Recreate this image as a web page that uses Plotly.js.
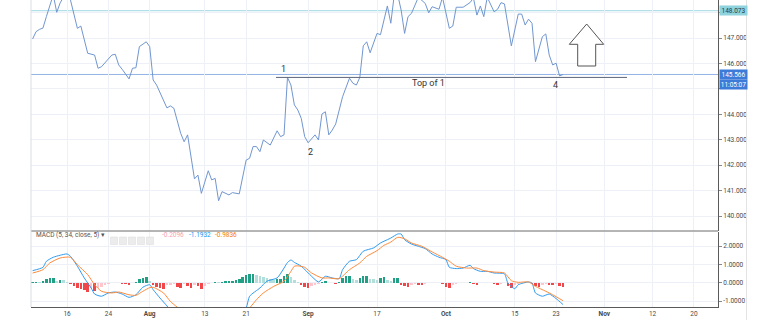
<!DOCTYPE html>
<html><head><meta charset="utf-8">
<script src="https://cdn.plot.ly/plotly-3.0.1.min.js"></script>
<style>html,body{margin:0;padding:0;background:#fff;}#chart{width:775px;height:320px;}</style>
</head><body><div id="chart"></div>
<script>
// ---------- data ----------
const firstSession = '2018-07-09';   // first 12h bar shown
const barCount = 155;                // 12h bars up to 2018-10-24 00:00

// price line: bar number (12h bars from firstSession) and close
const priceBar = [0,1,2,3,4,5,6,7,8,9,
  10,11,13,14,16,18,19,20,23,24,
  25,26,28,29,30,31,33,34,35,36,
  39,40,41,43,44,45,47,48,49,51,
  52,53,54,55,57,58,60,62,63,64,
  65,66,67,69,71,72,73,74,75,76,
  77,78,79,80,82,83,84,85,86,87,
  88,90,92,93,94,95,96,97,98,100,
  101,103,104,105,106,107,108,109,110,112,
  114,115,116,118,119,121,122,123,125,127,
  128,129,130,131,132,134,135,136,137,139,
  141,142,143,144,145,146,148,149,150,151,
  152,153,154];
const priceClose = [146.96,147.25,147.34,147.39,147.84,148.30,148.70,148.01,148.38,148.62,
  148.75,148.49,147.38,147.47,146.40,146.33,145.81,145.87,146.33,146.36,
  145.94,145.77,145.39,145.81,145.83,146.66,146.85,146.66,145.35,145.15,
  144.25,144.33,144.24,143.25,142.92,143.19,141.46,141.61,140.89,141.78,
  141.42,141.48,140.60,140.96,140.83,140.92,140.87,142.20,142.27,142.73,
  142.73,142.53,142.99,142.79,143.35,143.12,143.19,145.45,145.15,144.37,
  144.17,143.84,143.12,142.88,143.19,142.99,144.01,144.10,143.19,143.38,
  143.62,144.69,145.42,145.22,145.15,145.45,146.69,146.85,146.42,147.18,
  147.13,148.26,147.58,148.69,148.70,148.10,147.18,147.84,147.97,148.60,
  148.36,147.99,148.23,148.13,148.60,147.38,147.47,148.21,148.21,148.39,
  148.57,147.90,148.26,147.84,148.60,148.03,148.13,148.39,148.34,146.69,
  147.94,147.94,147.51,147.74,147.58,146.07,147.05,147.16,146.33,145.94,
  146.01,145.51,145.566];

// MACD (5, 34, close, 5)
const macdBar = [0,3,4,6,8,10,11,13,15,17,
  18,20,22,24,26,28,30,32,34,35,
  37,39,41,44,47,50,53,56,59,60,
  62,63,66,68,71,73,74,75,76,78,
  81,83,85,87,89,90,92,94,96,99,
  101,103,104,106,107,108,110,112,114,116,
  118,120,121,123,125,127,128,130,132,134,
  137,138,140,141,144,145,146,148,150,152,
  154];
const macdLine = [0.66,0.84,1.17,1.39,1.50,1.57,1.44,0.90,0.26,-0.29,
  -0.62,-0.74,-0.56,-0.51,-0.62,-0.80,-0.66,-0.25,-0.11,-0.38,
  -0.84,-1.27,-1.75,-2.3,-2.8,-3.0,-2.9,-2.6,-2.1,-1.8,
  -1.38,-0.74,-0.29,0.08,0.26,0.80,1.10,1.24,1.11,0.90,
  0.35,0.04,0.35,0.26,0.22,0.71,1.17,1.26,1.72,1.90,
  2.17,2.35,2.44,2.66,2.66,2.35,2.11,1.99,1.86,1.57,
  1.39,1.26,0.84,0.77,0.80,0.95,0.77,0.62,0.62,0.53,
  0.48,-0.02,-0.33,-0.11,0.04,-0.02,-0.56,-0.74,-0.62,-0.87,
  -1.1932];
const signalBar = [0,3,5,8,11,13,16,18,20,23,
  25,28,30,32,34,35,38,40,42,46,
  49,52,54,57,60,63,65,67,70,73,
  75,76,77,79,81,84,86,89,92,95,
  97,100,102,104,106,108,110,113,116,119,
  121,123,126,129,131,134,137,139,141,144,
  146,149,151,154];
const signalLine = [0.53,0.71,1.08,1.35,1.39,0.98,0.44,-0.11,-0.47,-0.56,
  -0.51,-0.66,-0.69,-0.47,-0.27,-0.25,-0.56,-1.02,-1.34,-1.9,
  -2.3,-2.5,-2.5,-2.3,-1.9,-1.38,-0.93,-0.56,-0.20,0.08,
  0.62,0.90,0.92,0.84,0.53,0.26,0.26,0.22,0.71,1.08,
  1.44,1.75,2.04,2.22,2.48,2.40,2.17,1.99,1.68,1.39,
  1.17,0.90,0.80,0.80,0.66,0.58,0.53,0.11,0.02,0.04,
  -0.20,-0.47,-0.66,-0.9836];
// histogram, one value per 12h bar (bars 0..154)
const histValues = [0.02,0.03,0.02,0.10,0.18,0.25,0.27,0.12,0.16,0.15,
  0.05,-0.05,-0.20,-0.28,-0.35,-0.42,-0.50,-0.30,-0.45,-0.30,
  -0.22,-0.15,-0.08,-0.02,-0.01,-0.03,-0.05,-0.08,-0.12,-0.02,
  0.05,0.20,0.28,0.30,0.12,-0.15,-0.25,-0.30,-0.32,-0.15,
  -0.10,-0.08,-0.25,-0.28,-0.05,-0.20,-0.30,-0.15,-0.20,-0.35,
  -0.20,-0.08,-0.02,0.03,0.02,0.05,0.07,0.08,0.12,0.15,
  0.20,0.30,0.40,0.45,0.48,0.40,0.35,0.30,0.25,0.20,
  0.15,0.18,0.20,0.35,0.50,0.30,0.15,0.05,-0.10,-0.25,
  -0.30,-0.20,-0.15,-0.08,0.05,0.08,-0.02,-0.03,-0.05,0.02,
  0.25,0.35,0.38,0.22,0.15,0.25,0.36,0.38,0.22,0.18,
  0.15,0.28,0.30,0.15,0.10,0.25,0.28,-0.10,-0.20,-0.22,
  -0.12,-0.06,-0.10,-0.12,-0.05,-0.03,-0.02,-0.04,-0.03,-0.08,
  -0.25,-0.30,-0.15,-0.08,-0.04,-0.02,0.00,0.04,-0.08,-0.10,
  -0.04,-0.02,-0.01,-0.03,-0.08,-0.10,-0.06,-0.03,-0.18,-0.30,
  -0.15,-0.08,-0.03,-0.01,-0.02,-0.06,-0.18,-0.22,-0.10,-0.05,
  -0.12,-0.15,-0.08,-0.20,-0.2096];

const tickDates = ['2018-07-16','2018-07-24','2018-08-01','2018-08-13','2018-08-21','2018-09-03',
  '2018-09-17','2018-10-01','2018-10-15','2018-10-23','2018-11-01','2018-11-12','2018-11-20'];
const tickLabels = ['16','24','<b>Aug</b>','13','21','<b>Sep</b>','17','<b>Oct</b>','15','23','<b>Nov</b>','12','20'];
const priceTicks = [140,141,142,143,144,145,146,147,148];
// 145.000 and 148.000 sit under the price-scale boxes in the reference
const priceTickLabels = ['140.000','141.000','142.000','143.000','144.000','','146.000','147.000',''];
const macdTicks = [2,1,0,-1];
const macdTickLabels = ['2.0000','1.0000','0.0000','-1.0000'];
const resistanceLevel = 148.073;
const clockText = '11:05:07';
const markLabels = ['1','2','4'];
const markBars = [74,80,154];
const topOfOneBar = 74;

// ---------- helpers ----------
function buildTimes(start, n){
  const out=[]; const d=new Date(start+'T00:00:00Z');
  while(out.length<n){
    const w=d.getUTCDay();
    if(w>=1&&w<=5){ const s=d.toISOString().slice(0,10); out.push(s+' 00:00', s+' 12:00'); }
    d.setUTCDate(d.getUTCDate()+1);
  }
  return out.slice(0,n);
}
const times = buildTimes(firstSession, barCount);
const priceX = priceBar.map(i=>times[i]);
const macdX = macdBar.map(i=>times[i]);
const signalX = signalBar.map(i=>times[i]);
const histColors = histValues.map((v,i)=>{
  const p = i>0 ? histValues[i-1] : v;
  if(v>=0) return v>=p ? '#22a086' : '#b2dfdb';
  return v<p ? '#f0474a' : '#ffc4cc';
});
const lastPrice = priceClose[priceClose.length-1];
const topOfOne = priceClose[priceBar.indexOf(topOfOneBar)];

const W=775, H=320, L=31, R=57, T=0, B=13;
const pw=W-L-R, ph=H-T-B;
const px=x=>(x-L)/pw, py=y=>(H-B-y)/ph;
const FONT='Roboto, "Open Sans", sans-serif';
const GRID='#edf1f7';

const traces=[
  {x:priceX,y:priceClose,type:'scatter',mode:'lines',line:{color:'#7196d0',width:1},xaxis:'x',yaxis:'y',hoverinfo:'skip'},
  {x:times,y:histValues,type:'bar',marker:{color:histColors,line:{width:0}},width:12*3600*1000*0.72,xaxis:'x',yaxis:'y2',hoverinfo:'skip'},
  {x:macdX,y:macdLine,type:'scatter',mode:'lines',line:{color:'#2f9bf0',width:1,shape:'spline',smoothing:0.6},xaxis:'x',yaxis:'y2',hoverinfo:'skip'},
  {x:signalX,y:signalLine,type:'scatter',mode:'lines',line:{color:'#ff8a3a',width:1,shape:'spline',smoothing:0.6},xaxis:'x',yaxis:'y2',hoverinfo:'skip'}
];

const tickFont={family:FONT,size:6.5,color:'#4a4a4a'};
const ann=[];
// point labels
const markShift=[[-4,8],[2,-9],[-8,-11]];
markLabels.forEach((t,k)=>{
  const i=priceBar.indexOf(markBars[k]);
  ann.push({x:times[markBars[k]],y:priceClose[i],xref:'x',yref:'y',text:t,showarrow:false,
    xshift:markShift[k][0],yshift:markShift[k][1],font:{family:FONT,size:9,color:'#333'}});
});
ann.push({x:px(428.3),y:topOfOne,xref:'paper',yref:'y',text:'Top of 1',showarrow:false,yshift:-6,
  font:{family:FONT,size:9,color:'#333'}});
// price-scale boxes
ann.push({x:1,y:resistanceLevel,xref:'paper',yref:'y',xanchor:'left',xshift:1,text:resistanceLevel.toFixed(3),
  showarrow:false,bgcolor:'#8fd3de',width:26,height:8,borderpad:0.5,font:{family:FONT,size:6.5,color:'#1d3b47'}});
ann.push({x:1,y:lastPrice,xref:'paper',yref:'y',xanchor:'left',xshift:1,text:lastPrice.toFixed(3),
  showarrow:false,bgcolor:'#3d7bd9',width:26,height:8,borderpad:0.5,font:{family:FONT,size:6.5,color:'#fff'}});
ann.push({x:1,y:lastPrice,xref:'paper',yref:'y',xanchor:'left',xshift:1,yshift:-10,text:clockText,
  showarrow:false,bgcolor:'#3d7bd9',width:26,height:8,borderpad:0.5,font:{family:FONT,size:6.5,color:'#fff'}});
// MACD legend
const ly=py(240.7);
ann.push({x:px(33.5),y:ly,xref:'paper',yref:'paper',xanchor:'left',text:'MACD (5, 34, close, 5) ▾',showarrow:false,
  font:{family:FONT,size:6.5,color:'#555'}});
ann.push({x:px(160),y:ly,xref:'paper',yref:'paper',xanchor:'left',text:histValues[histValues.length-1].toFixed(4),showarrow:false,
  font:{family:FONT,size:6.5,color:'#f5a3b1'}});
ann.push({x:px(186.5),y:ly,xref:'paper',yref:'paper',xanchor:'left',text:macdLine[macdLine.length-1].toFixed(4),showarrow:false,
  font:{family:FONT,size:6.5,color:'#2196f3'}});
ann.push({x:px(212.5),y:ly,xref:'paper',yref:'paper',xanchor:'left',text:signalLine[signalLine.length-1].toFixed(4),showarrow:false,
  font:{family:FONT,size:6.5,color:'#f57c00'}});

const shapes=[
  {type:'line',xref:'paper',yref:'y',x0:0,x1:1,y0:resistanceLevel,y1:resistanceLevel,line:{color:'#9fd9e2',width:1},layer:'below'},
  {type:'line',xref:'paper',yref:'y',x0:0,x1:1,y0:lastPrice,y1:lastPrice,line:{color:'#93b3e6',width:1},layer:'below'},
  {type:'line',xref:'paper',yref:'y',x0:px(276),x1:px(627),y0:topOfOne,y1:topOfOne,line:{color:'#5b6478',width:1}},
  {type:'line',xref:'paper',yref:'paper',x0:0,x1:1,y0:py(231),y1:py(231),line:{color:'#6b6b6b',width:1}},
  {type:'line',xref:'paper',yref:'paper',x0:0,x1:0,y0:0,y1:1,line:{color:'#d9dde3',width:1}},
  {type:'line',xref:'paper',yref:'paper',x0:px(746.5),x1:px(746.5),y0:py(0),y1:py(320),line:{color:'#e3e3e3',width:1}},
  {type:'path',xref:'paper',yref:'paper',
   path:`M ${px(586.7)} ${py(24)} L ${px(603.7)} ${py(44.3)} L ${px(595.7)} ${py(44.3)} L ${px(595.7)} ${py(66)} L ${px(577.7)} ${py(66)} L ${px(577.7)} ${py(44.3)} L ${px(569.3)} ${py(44.3)} Z`,
   line:{color:'#555',width:1},fillcolor:'#fff'}
];
// legend icon buttons
[110.5,119.5,128.5,137.5,146.5].forEach(x=>{
  shapes.push({type:'rect',xref:'paper',yref:'paper',x0:px(x),x1:px(x+7),y0:py(244.5),y1:py(237),
    line:{color:'#dadada',width:0.5},fillcolor:'#ececec'});
});

const layout={
  width:W,height:H,margin:{l:L,r:R,t:T,b:B,pad:0},
  paper_bgcolor:'#fff',plot_bgcolor:'#fff',showlegend:false,bargap:0,
  font:{family:FONT},
  xaxis:{type:'date',anchor:'y2',domain:[0,1],range:['2018-07-06 18:24','2018-11-23 12:00'],
    rangebreaks:[{bounds:['sat','mon']}],tickvals:tickDates,ticktext:tickLabels,tickfont:tickFont,
    showgrid:true,gridcolor:GRID,gridwidth:1,showline:true,linecolor:'#5a5a5a',linewidth:1,ticks:'',
    zeroline:false,fixedrange:true},
  yaxis:{domain:[py(231),1],anchor:'x',side:'right',range:[139.411,148.494],tickvals:priceTicks,ticktext:priceTickLabels,
    tickfont:tickFont,ticks:'outside',ticklen:3,tickcolor:'#888',showline:true,linecolor:'#5a5a5a',linewidth:1,
    showgrid:true,gridcolor:GRID,zeroline:false,fixedrange:true},
  yaxis2:{domain:[0,py(232)],anchor:'x',side:'right',range:[-1.328,2.770],tickvals:macdTicks,ticktext:macdTickLabels,
    tickfont:tickFont,ticks:'outside',ticklen:3,tickcolor:'#888',showline:true,linecolor:'#5a5a5a',linewidth:1,
    showgrid:true,gridcolor:GRID,zeroline:false,fixedrange:true},
  annotations:ann,shapes:shapes
};
Plotly.newPlot('chart',traces,layout,{staticPlot:true,displayModeBar:false});
</script></body></html>
